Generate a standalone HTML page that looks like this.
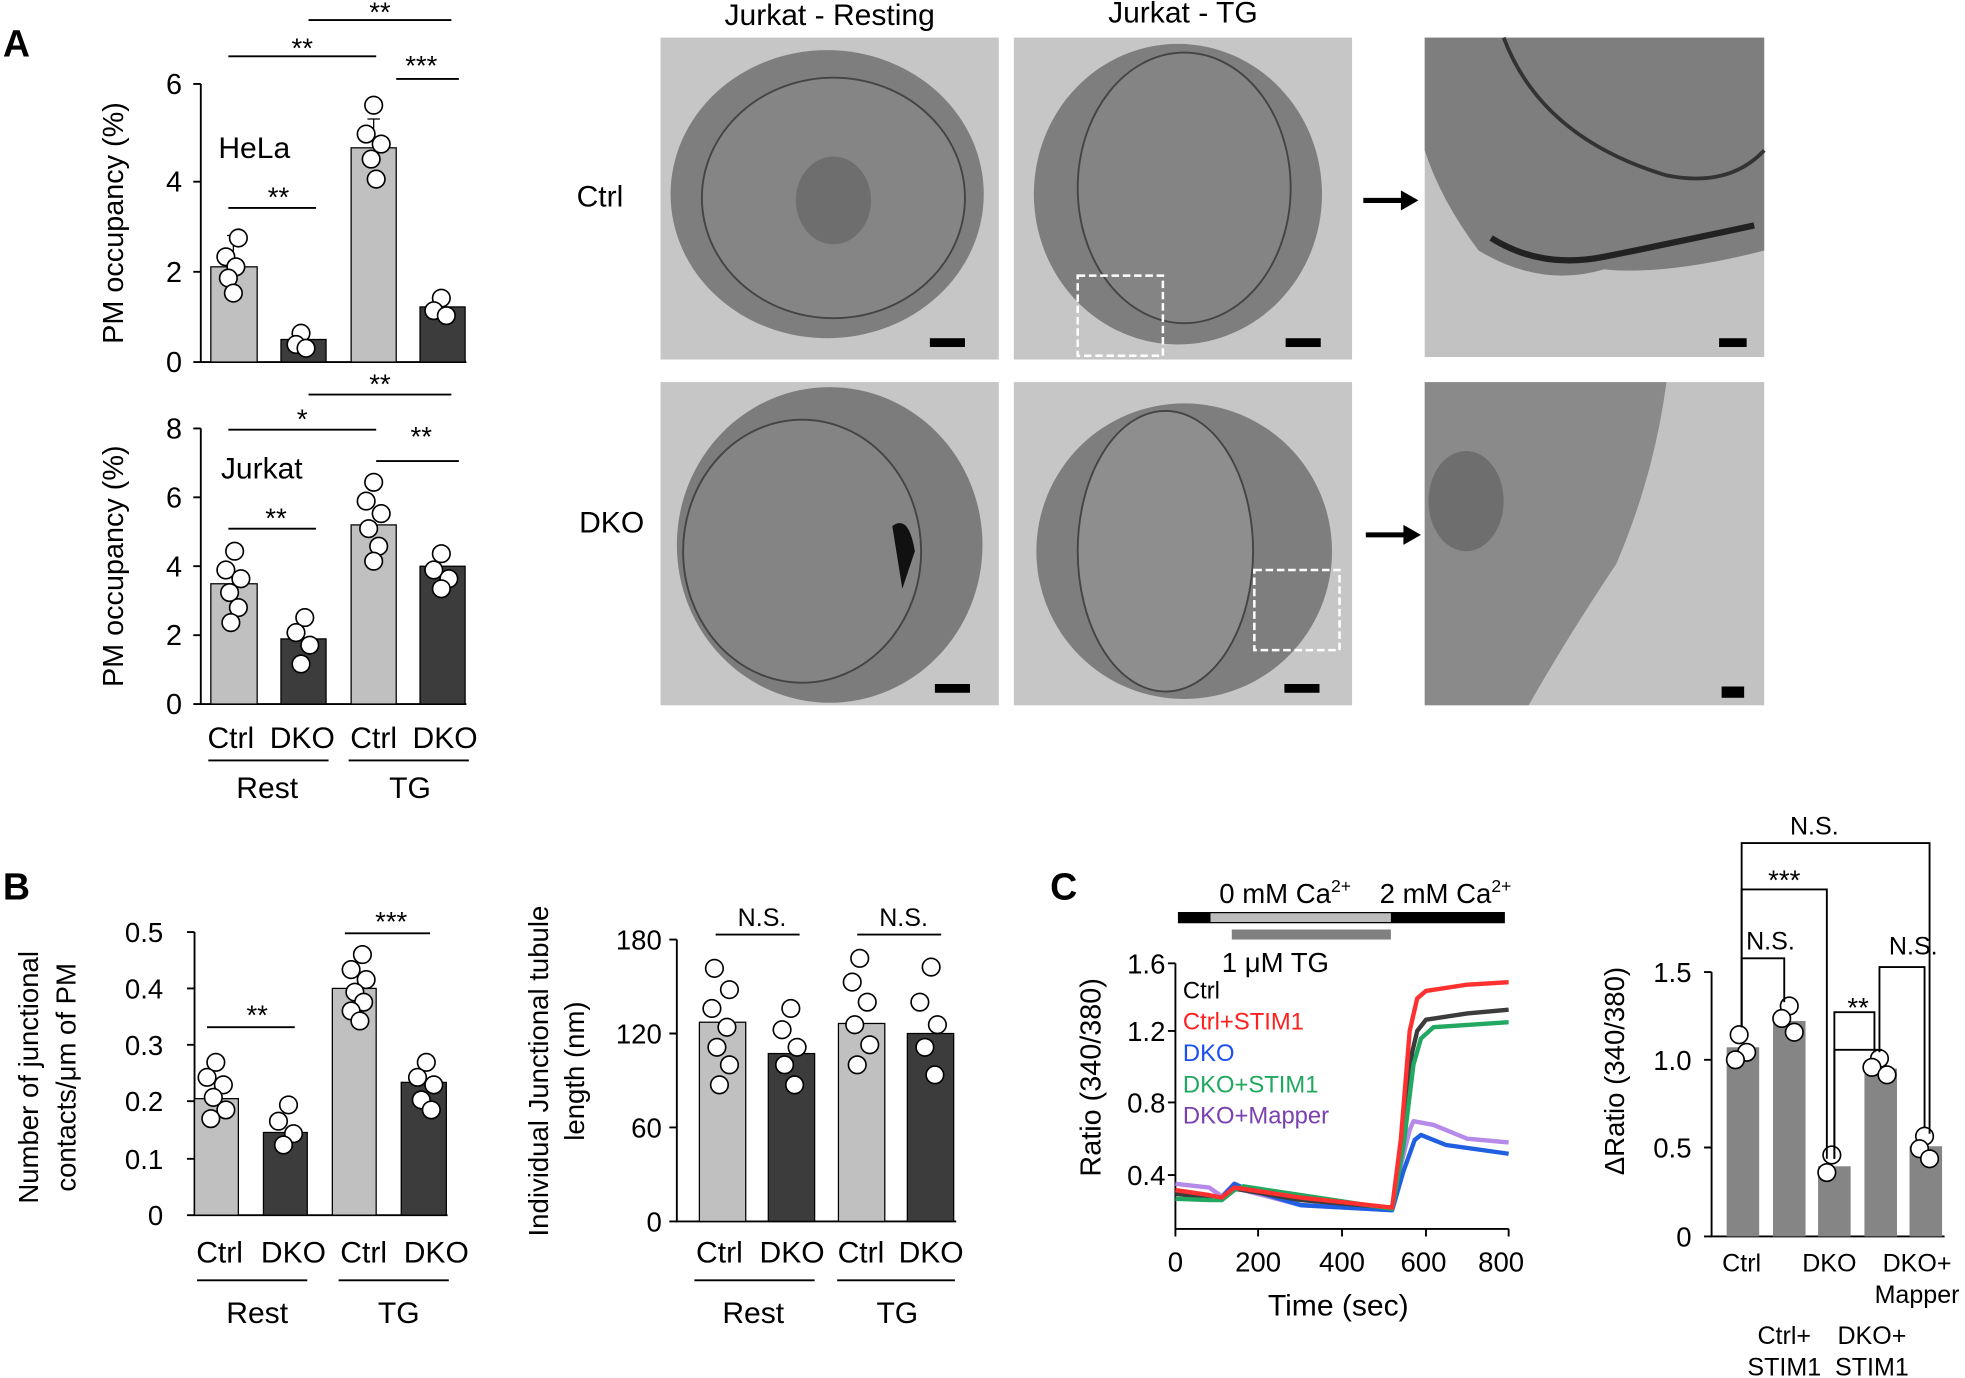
<!DOCTYPE html>
<html><head><meta charset="utf-8"><style>
html,body{margin:0;padding:0;background:#fff;}
svg{display:block;}
text{font-family:"Liberation Sans",Arial,sans-serif;}
</style></head><body>
<svg width="1965" height="1378" viewBox="0 0 1568 1100" xmlns="http://www.w3.org/2000/svg">
<defs>
<g id="c"><circle r="7" fill="#fff" stroke="#000" stroke-width="1.3"/></g>
</defs>
<text x="2" y="45" font-size="30" font-weight="bold">A</text>
<text x="2" y="718" font-size="30" font-weight="bold">B</text>
<text x="838" y="718" font-size="30" font-weight="bold">C</text>

<g stroke="#000" stroke-width="1.5" fill="none">
<path d="M160 67V289H372"/>
<path d="M154 67H160M154 145H160M154 217H160M154 289H160"/>
<path d="M154 342H160M154 397H160M154 452H160M154 507H160M154 562H160"/>
<path d="M160 342V562H372"/>
</g>
<g font-size="23" text-anchor="end">
<text x="145" y="75">6</text><text x="145" y="153">4</text><text x="145" y="225">2</text><text x="145" y="297">0</text>
<text x="145" y="350">8</text><text x="145" y="405">6</text><text x="145" y="460">4</text><text x="145" y="515">2</text><text x="145" y="570">0</text>
</g>
<text transform="translate(98,178) rotate(-90)" font-size="23" text-anchor="middle">PM occupancy (%)</text>
<text transform="translate(98,452) rotate(-90)" font-size="23" text-anchor="middle">PM occupancy (%)</text>
<text x="174" y="126" font-size="24">HeLa</text>
<text x="176" y="382" font-size="24">Jurkat</text>
<g stroke="#000" stroke-width="1">
<rect x="168" y="213" width="37" height="76" fill="#c0c0c0"/>
<rect x="224" y="271" width="36" height="18" fill="#3c3c3c"/>
<rect x="280" y="118" width="36" height="171" fill="#c0c0c0"/>
<rect x="335" y="245" width="36" height="44" fill="#3c3c3c"/>
<rect x="168" y="466" width="37" height="96" fill="#c0c0c0"/>
<rect x="224" y="510" width="36" height="52" fill="#3c3c3c"/>
<rect x="280" y="419" width="36" height="143" fill="#c0c0c0"/>
<rect x="335" y="452" width="36" height="110" fill="#3c3c3c"/>
<path d="M186 213V188M181 188H191M298 118V95M293 95H303" fill="none"/>
</g>
<g>
<use href="#c" x="190" y="190"/><use href="#c" x="180" y="205"/><use href="#c" x="188" y="213"/><use href="#c" x="182" y="222"/><use href="#c" x="186" y="234"/>
<use href="#c" x="240" y="266"/><use href="#c" x="236" y="275"/><use href="#c" x="244" y="278"/>
<use href="#c" x="298" y="84"/><use href="#c" x="292" y="107"/><use href="#c" x="304" y="115"/><use href="#c" x="296" y="127"/><use href="#c" x="300" y="143"/>
<use href="#c" x="352" y="238"/><use href="#c" x="346" y="248"/><use href="#c" x="356" y="252"/>
<use href="#c" x="187" y="440"/><use href="#c" x="180" y="455"/><use href="#c" x="192" y="462"/><use href="#c" x="183" y="473"/><use href="#c" x="190" y="485"/><use href="#c" x="184" y="497"/>
<use href="#c" x="243" y="493"/><use href="#c" x="236" y="505"/><use href="#c" x="247" y="515"/><use href="#c" x="240" y="530"/>
<use href="#c" x="298" y="385"/><use href="#c" x="292" y="400"/><use href="#c" x="304" y="410"/><use href="#c" x="294" y="422"/><use href="#c" x="302" y="436"/><use href="#c" x="298" y="448"/>
<use href="#c" x="352" y="442"/><use href="#c" x="346" y="455"/><use href="#c" x="358" y="462"/><use href="#c" x="352" y="470"/>
</g>
<g stroke="#000" stroke-width="1.5">
<path d="M182 166H252M182 45H300M246 16H360M316 63H366M182 422H252M182 343H300M246 315H360M300 368H366"/>
</g>
<g font-size="22" text-anchor="middle">
<text x="222" y="165">**</text><text x="241" y="46">**</text><text x="303" y="17">**</text><text x="336" y="60">***</text>
<text x="220" y="421">**</text><text x="241" y="342">*</text><text x="303" y="314">**</text><text x="336" y="356">**</text>
</g>
<g font-size="24" text-anchor="middle">
<text x="184" y="597">Ctrl</text><text x="241" y="597">DKO</text><text x="298" y="597">Ctrl</text><text x="355" y="597">DKO</text>
<text x="213" y="637">Rest</text><text x="327" y="637">TG</text>
</g>
<path d="M166 607H262M278 607H374" stroke="#000" stroke-width="1.5"/>

<g font-size="24" text-anchor="middle">
<text x="662" y="20">Jurkat - Resting</text><text x="944" y="18">Jurkat - TG</text>
</g>
<text x="460" y="165" font-size="24">Ctrl</text>
<text x="462" y="425" font-size="24">DKO</text>
<g>
<rect x="527" y="30" width="270" height="257" fill="#c6c6c6"/>
<ellipse cx="660" cy="155" rx="125" ry="115" fill="#7e7e7e"/>
<ellipse cx="665" cy="158" rx="105" ry="96" fill="#858585" stroke="#444" stroke-width="1.5"/>
<ellipse cx="665" cy="160" rx="30" ry="35" fill="#6e6e6e"/>
<rect x="742" y="270" width="28" height="7" fill="#000"/>

<rect x="809" y="30" width="270" height="257" fill="#c6c6c6"/>
<ellipse cx="940" cy="155" rx="115" ry="120" fill="#7e7e7e"/>
<ellipse cx="945" cy="150" rx="85" ry="108" fill="#848484" stroke="#444" stroke-width="1.5"/>
<rect x="860" y="220" width="68" height="64" fill="none" stroke="#fff" stroke-width="2" stroke-dasharray="6,3"/>
<rect x="1026" y="270" width="28" height="7" fill="#000"/>

<rect x="1137" y="30" width="271" height="255" fill="#c2c2c2"/>
<path d="M1137 30H1408V200Q1330 220 1280 215Q1230 230 1180 200Q1150 160 1137 120Z" fill="#7e7e7e"/>
<path d="M1190 190Q1230 215 1280 205Q1330 195 1400 180" stroke="#222" stroke-width="5" fill="none"/>
<path d="M1200 30Q1230 110 1330 140Q1380 150 1408 120" stroke="#333" stroke-width="3" fill="none"/>
<rect x="1372" y="270" width="22" height="7" fill="#000"/>

<rect x="527" y="305" width="270" height="258" fill="#c6c6c6"/>
<ellipse cx="662" cy="435" rx="122" ry="126" fill="#7c7c7c"/>
<ellipse cx="640" cy="440" rx="95" ry="105" fill="#848484" stroke="#444" stroke-width="1.5"/>
<path d="M712 420Q725 410 730 440L720 470Z" fill="#111"/>
<rect x="746" y="546" width="28" height="7" fill="#000"/>

<rect x="809" y="305" width="270" height="258" fill="#c6c6c6"/>
<ellipse cx="945" cy="440" rx="118" ry="118" fill="#7e7e7e"/>
<ellipse cx="930" cy="440" rx="70" ry="112" fill="#8e8e8e" stroke="#444" stroke-width="1.5"/>
<rect x="1001" y="455" width="68" height="64" fill="none" stroke="#fff" stroke-width="2" stroke-dasharray="6,3"/>
<rect x="1025" y="546" width="28" height="7" fill="#000"/>

<rect x="1137" y="305" width="271" height="258" fill="#c2c2c2"/>
<path d="M1137 305H1330Q1320 380 1290 450Q1250 510 1220 563H1137Z" fill="#8a8a8a"/>
<ellipse cx="1170" cy="400" rx="30" ry="40" fill="#6e6e6e"/>
<rect x="1374" y="548" width="18" height="9" fill="#000"/>
</g>
<g fill="#000">
<path d="M1088 158H1118V152L1132 160L1118 168V162H1088Z"/>
<path d="M1090 425H1120V419L1134 427L1120 435V429H1090Z"/>
</g>

<g stroke="#000" stroke-width="1.5" fill="none">
<path d="M155 744V970H357"/>
<path d="M149 744H155M149 789H155M149 834H155M149 879H155M149 925H155M149 970H155"/>
</g>
<g font-size="22" text-anchor="end">
<text x="130" y="752">0.5</text><text x="130" y="797">0.4</text><text x="130" y="842">0.3</text><text x="130" y="887">0.2</text><text x="130" y="933">0.1</text><text x="130" y="978">0</text>
</g>
<text transform="translate(30,860) rotate(-90)" font-size="22" text-anchor="middle">Number of junctional</text>
<text transform="translate(60,860) rotate(-90)" font-size="22" text-anchor="middle">contacts/μm of PM</text>
<g stroke="#000" stroke-width="1">
<rect x="155" y="877" width="35" height="93" fill="#c0c0c0"/>
<rect x="210" y="904" width="35" height="66" fill="#3c3c3c"/>
<rect x="265" y="789" width="35" height="181" fill="#c0c0c0"/>
<rect x="320" y="864" width="36" height="106" fill="#3c3c3c"/>
</g>
<g>
<use href="#c" x="172" y="848"/><use href="#c" x="165" y="860"/><use href="#c" x="178" y="866"/><use href="#c" x="170" y="876"/><use href="#c" x="180" y="886"/><use href="#c" x="168" y="893"/>
<use href="#c" x="230" y="882"/><use href="#c" x="222" y="895"/><use href="#c" x="234" y="905"/><use href="#c" x="226" y="914"/>
<use href="#c" x="289" y="762"/><use href="#c" x="280" y="774"/><use href="#c" x="292" y="782"/><use href="#c" x="283" y="792"/><use href="#c" x="290" y="800"/><use href="#c" x="280" y="807"/><use href="#c" x="287" y="815"/>
<use href="#c" x="340" y="848"/><use href="#c" x="333" y="860"/><use href="#c" x="346" y="866"/><use href="#c" x="336" y="878"/><use href="#c" x="344" y="886"/>
</g>
<path d="M165 820H235M275 745H343" stroke="#000" stroke-width="1.5"/>
<g font-size="22" text-anchor="middle"><text x="205" y="818">**</text><text x="312" y="743">***</text></g>
<g font-size="24" text-anchor="middle">
<text x="175" y="1008">Ctrl</text><text x="234" y="1008">DKO</text><text x="290" y="1008">Ctrl</text><text x="348" y="1008">DKO</text>
<text x="205" y="1056">Rest</text><text x="318" y="1056">TG</text>
</g>
<path d="M157 1022H245M270 1022H358" stroke="#000" stroke-width="1.5"/>

<g stroke="#000" stroke-width="1.5" fill="none">
<path d="M540 750V975H763"/>
<path d="M534 750H540M534 825H540M534 900H540M534 975H540"/>
</g>
<g font-size="22" text-anchor="end">
<text x="528" y="758">180</text><text x="528" y="833">120</text><text x="528" y="908">60</text><text x="528" y="983">0</text>
</g>
<text transform="translate(437,855) rotate(-90)" font-size="22" text-anchor="middle">Individual Junctional tubule</text>
<text transform="translate(466,855) rotate(-90)" font-size="22" text-anchor="middle">length (nm)</text>
<g stroke="#000" stroke-width="1">
<rect x="558" y="816" width="37" height="159" fill="#c0c0c0"/>
<rect x="613" y="841" width="37" height="134" fill="#3c3c3c"/>
<rect x="669" y="817" width="37" height="158" fill="#c0c0c0"/>
<rect x="724" y="825" width="37" height="150" fill="#3c3c3c"/>
</g>
<g>
<use href="#c" x="570" y="773"/><use href="#c" x="582" y="790"/><use href="#c" x="568" y="805"/><use href="#c" x="580" y="820"/><use href="#c" x="572" y="836"/><use href="#c" x="582" y="850"/><use href="#c" x="574" y="866"/>
<use href="#c" x="631" y="805"/><use href="#c" x="624" y="822"/><use href="#c" x="636" y="836"/><use href="#c" x="626" y="850"/><use href="#c" x="634" y="866"/>
<use href="#c" x="686" y="765"/><use href="#c" x="680" y="784"/><use href="#c" x="692" y="800"/><use href="#c" x="682" y="818"/><use href="#c" x="694" y="834"/><use href="#c" x="684" y="850"/>
<use href="#c" x="743" y="772"/><use href="#c" x="734" y="800"/><use href="#c" x="748" y="818"/><use href="#c" x="738" y="836"/><use href="#c" x="746" y="858"/>
</g>
<path d="M571 746H638M684 746H751" stroke="#000" stroke-width="1.5"/>
<g font-size="20" text-anchor="middle"><text x="608" y="739">N.S.</text><text x="721" y="739">N.S.</text></g>
<g font-size="24" text-anchor="middle">
<text x="574" y="1008">Ctrl</text><text x="632" y="1008">DKO</text><text x="687" y="1008">Ctrl</text><text x="743" y="1008">DKO</text>
<text x="601" y="1056">Rest</text><text x="716" y="1056">TG</text>
</g>
<path d="M554 1022H650M668 1022H762" stroke="#000" stroke-width="1.5"/>

<text x="973" y="721" font-size="22">0 mM Ca<tspan font-size="14" dy="-9">2+</tspan></text>
<text x="1101" y="721" font-size="22">2 mM Ca<tspan font-size="14" dy="-9">2+</tspan></text>
<rect x="940" y="728" width="261" height="9" fill="#000"/>
<rect x="966" y="729" width="144" height="7" fill="#bdbdbd"/>
<rect x="983" y="742" width="127" height="8" fill="#808080"/>
<text x="975" y="776" font-size="22">1 μM TG</text>
<g stroke="#000" stroke-width="1.5" fill="none">
<path d="M938 769V981H1204"/>
<path d="M932 769H938M932 823H938M932 880H938M932 938H938"/>
<path d="M938 981V987M1004 981V987M1071 981V987M1138 981V987M1204 981V987"/>
</g>
<g font-size="22" text-anchor="end">
<text x="930" y="777">1.6</text><text x="930" y="831">1.2</text><text x="930" y="888">0.8</text><text x="930" y="946">0.4</text>
</g>
<g font-size="22" text-anchor="middle">
<text x="938" y="1015">0</text><text x="1004" y="1015">200</text><text x="1071" y="1015">400</text><text x="1136" y="1015">600</text><text x="1198" y="1015">800</text>
<text x="1068" y="1050" font-size="24">Time (sec)</text>
</g>
<text transform="translate(878,860) rotate(-90)" font-size="23" text-anchor="middle">Ratio (340/380)</text>
<g font-size="19">
<text x="944" y="797" style="fill:#000">Ctrl</text>
<text x="944" y="822" style="fill:#ff2020">Ctrl+STIM1</text>
<text x="944" y="847" style="fill:#1a4ff0">DKO</text>
<text x="944" y="872" style="fill:#20a860">DKO+STIM1</text>
<text x="944" y="897" style="fill:#7a40b0">DKO+Mapper</text>
</g>
<g fill="none" stroke-width="3.5" stroke-linejoin="round">
<polyline stroke="#b58ae8" points="938,945 965,948 975,955 985,945 992,950 1038,962 1111,966 1118,930 1125,902 1128,895 1144,898 1171,909 1204,912"/>
<polyline stroke="#2060e0" points="938,952 965,955 975,956 985,945 992,948 1038,962 1111,966 1120,935 1129,910 1134,906 1154,914 1204,921"/>
<polyline stroke="#3c3c3c" points="938,953 965,956 975,957 985,949 992,950 1038,958 1111,964 1120,905 1127,840 1131,823 1138,814 1171,809 1204,806"/>
<polyline stroke="#22a860" points="938,957 965,958 975,958 985,950 992,947 1038,954 1111,965 1120,915 1128,850 1134,829 1144,820 1204,816"/>
<polyline stroke="#ff3030" points="938,950 965,954 975,956 985,948 992,949 1038,956 1111,964 1118,909 1125,823 1131,797 1138,791 1171,786 1204,784"/>
</g>

<g stroke="#000" stroke-width="1.5" fill="none">
<path d="M1366 776V987H1552"/>
<path d="M1360 776H1366M1360 846H1366M1360 916H1366M1360 987H1366"/>
</g>
<g font-size="22" text-anchor="end">
<text x="1350" y="784">1.5</text><text x="1350" y="854">1.0</text><text x="1350" y="924">0.5</text><text x="1350" y="995">0</text>
</g>
<text transform="translate(1296,855) rotate(-90)" font-size="22" text-anchor="middle">ΔRatio (340/380)</text>
<g fill="#858585">
<rect x="1378" y="836" width="26" height="151"/>
<rect x="1415" y="815" width="26" height="172"/>
<rect x="1451" y="931" width="26" height="56"/>
<rect x="1488" y="853" width="26" height="134"/>
<rect x="1524" y="915" width="26" height="72"/>
</g>
<g>
<use href="#c" x="1388" y="826"/><use href="#c" x="1394" y="840"/><use href="#c" x="1385" y="846"/>
<use href="#c" x="1428" y="803"/><use href="#c" x="1422" y="813"/><use href="#c" x="1432" y="824"/>
<use href="#c" x="1462" y="922"/><use href="#c" x="1458" y="936"/>
<use href="#c" x="1500" y="845"/><use href="#c" x="1494" y="852"/><use href="#c" x="1506" y="858"/>
<use href="#c" x="1536" y="907"/><use href="#c" x="1532" y="917"/><use href="#c" x="1540" y="925"/>
</g>
<g stroke="#000" stroke-width="1.5" fill="none">
<path d="M1390 820V673H1540V905"/>
<path d="M1390 820V710H1458V925"/>
<path d="M1390 820V765H1424V800"/>
<path d="M1464 925V838H1502"/>
<path d="M1464 925V808H1496V840"/>
<path d="M1500 840V772H1536V900"/>
</g>
<g font-size="20" text-anchor="middle">
<text x="1448" y="666">N.S.</text><text x="1424" y="710" font-size="22">***</text><text x="1413" y="758">N.S.</text>
<text x="1483" y="812" font-size="22">**</text><text x="1527" y="762">N.S.</text>
</g>
<g font-size="20" text-anchor="middle">
<text x="1390" y="1015">Ctrl</text><text x="1460" y="1015">DKO</text><text x="1530" y="1015">DKO+</text><text x="1530" y="1040">Mapper</text>
<text x="1424" y="1073">Ctrl+</text><text x="1424" y="1098">STIM1</text><text x="1494" y="1073">DKO+</text><text x="1494" y="1098">STIM1</text>
</g>
</svg>
</body></html>
